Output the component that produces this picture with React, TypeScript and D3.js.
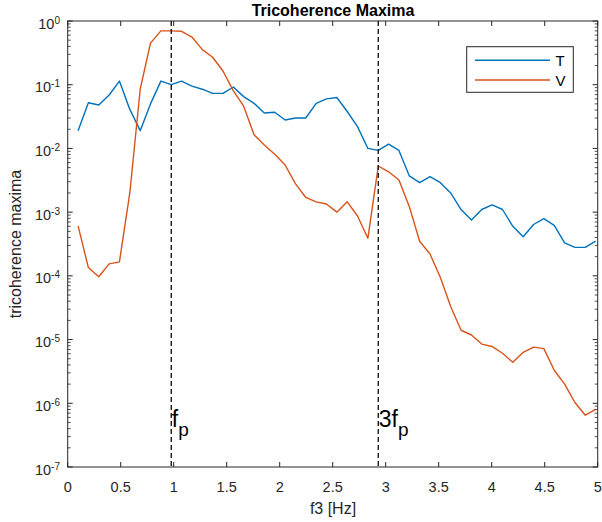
import React from "react";
import * as d3 from "d3";

const freqs = [0.098, 0.195, 0.293, 0.391, 0.488, 0.586, 0.684, 0.781, 0.879, 0.977, 1.074, 1.172, 1.270, 1.367, 1.465, 1.563, 1.660, 1.758, 1.855, 1.953, 2.051, 2.148, 2.246, 2.344, 2.441, 2.539, 2.637, 2.734, 2.832, 2.930, 3.027, 3.125, 3.223, 3.320, 3.418, 3.516, 3.613, 3.711, 3.809, 3.906, 4.004, 4.102, 4.199, 4.297, 4.395, 4.492, 4.590, 4.688, 4.785, 4.883, 4.980];

const seriesT = [0.019, 0.052, 0.048, 0.069, 0.114, 0.041, 0.019, 0.050, 0.114, 0.100, 0.114, 0.095, 0.085, 0.073, 0.073, 0.092, 0.065, 0.051, 0.036, 0.037, 0.028, 0.030, 0.030, 0.051, 0.060, 0.063, 0.038, 0.022, 0.010, 0.0093, 0.0117, 0.0093, 0.0037, 0.0029, 0.0036, 0.0029, 0.0020, 0.0011, 0.00075, 0.0011, 0.0013, 0.0011, 0.00060, 0.00041, 0.00064, 0.00079, 0.00062, 0.00033, 0.00028, 0.00028, 0.00035];

const seriesV = [0.00061, 0.000135, 0.000097, 0.000154, 0.000166, 0.0020, 0.085, 0.45, 0.70, 0.70, 0.69, 0.56, 0.355, 0.27, 0.164, 0.080, 0.046, 0.0164, 0.0113, 0.0081, 0.0055, 0.0028, 0.0017, 0.00145, 0.00134, 0.00100, 0.00145, 0.00087, 0.00039, 0.0053, 0.0043, 0.0032, 0.00122, 0.00035, 0.00022, 0.000094, 0.000033, 0.000014, 0.0000118, 0.0000085, 0.0000078, 0.0000061, 0.0000044, 0.0000063, 0.0000076, 0.0000072, 0.0000033, 0.0000020, 0.00000103, 0.00000065, 0.00000080];

const xTicks = [0, 0.5, 1, 1.5, 2, 2.5, 3, 3.5, 4, 4.5, 5];
const xTickLabels = ["0", "0.5", "1", "1.5", "2", "2.5", "3", "3.5", "4", "4.5", "5"];
const yExponents = [0, -1, -2, -3, -4, -5, -6, -7];
const markerFreqs = [0.977, 2.93];
const markerLabels = [["f", "p"], ["3f", "p"]];
const legendNames = ["T", "V"];

const W = 602, H = 522;
const L = 67.7, R = 597.7, T = 21, B = 467;
const colT = "#0072BD", colV = "#D95319";
const axisCol = "#262626";
const font = "'Liberation Sans', Arial, Helvetica, sans-serif";

export default function App() {
  const x = d3.scaleLinear().domain([0, 5]).range([L, R]);
  const y = d3.scaleLog().domain([1e-7, 1]).range([B, T]);
  const line = d3.line<number>().x((_, i) => x(freqs[i])).y((d) => y(d));

  const minor: number[] = [];
  for (let e = -7; e < 0; e++) for (let m = 2; m <= 9; m++) minor.push(m * Math.pow(10, e));

  return (
    <svg width={W} height={H} style={{ position: "fixed", left: 0, top: 0, background: "#fff" }} fontFamily={font}>
      <rect x={0} y={0} width={W} height={H} fill="#fff" />
      {/* data lines */}
      <path d={line(seriesT) || ""} fill="none" stroke={colT} strokeWidth={1.4} strokeLinejoin="round" />
      <path d={line(seriesV) || ""} fill="none" stroke={colV} strokeWidth={1.4} strokeLinejoin="round" />
      {/* marker lines */}
      {markerFreqs.map((f, i) => (
        <g key={"m" + i}>
          <line x1={x(f)} x2={x(f)} y1={T} y2={B} stroke="#1a1a1a" strokeWidth={1.4} strokeDasharray="5,3" />
          <text x={x(f) + 0.5} y={427} fontSize={23} fill="#000">
            {markerLabels[i][0]}
            <tspan fontSize={19} dy={8.5}>{markerLabels[i][1]}</tspan>
          </text>
        </g>
      ))}
      {/* axes box */}
      <rect x={L} y={T} width={R - L} height={B - T} fill="none" stroke={axisCol} strokeWidth={1} />
      {/* x ticks */}
      {xTicks.map((t, i) => (
        <g key={"x" + i}>
          <line x1={x(t)} x2={x(t)} y1={B} y2={B - 5} stroke={axisCol} />
          <line x1={x(t)} x2={x(t)} y1={T} y2={T + 5} stroke={axisCol} />
          <text x={x(t)} y={491.5} fontSize={14.5} textAnchor="middle" fill={axisCol}>{xTickLabels[i]}</text>
        </g>
      ))}
      {/* y ticks */}
      {yExponents.map((e) => (
        <g key={"y" + e}>
          <line x1={L} x2={L + 5} y1={y(Math.pow(10, e))} y2={y(Math.pow(10, e))} stroke={axisCol} />
          <line x1={R} x2={R - 5} y1={y(Math.pow(10, e))} y2={y(Math.pow(10, e))} stroke={axisCol} />
          <text x={60} y={y(Math.pow(10, e)) + 7.5} fontSize={14.5} textAnchor="end" fill={axisCol}>
            10<tspan fontSize={10} dy={-5}>{String(e)}</tspan>
          </text>
        </g>
      ))}
      {minor.map((v, i) => (
        <g key={"mn" + i}>
          <line x1={L} x2={L + 3} y1={y(v)} y2={y(v)} stroke={axisCol} strokeWidth={0.8} />
          <line x1={R} x2={R - 3} y1={y(v)} y2={y(v)} stroke={axisCol} strokeWidth={0.8} />
        </g>
      ))}
      {/* labels */}
      <text x={333} y={15.5} fontSize={16} fontWeight="bold" textAnchor="middle" fill="#000">Tricoherence Maxima</text>
      <text x={333} y={513.5} fontSize={16} textAnchor="middle" fill={axisCol}>f3 [Hz]</text>
      <text transform={`translate(20.5,${(T + B) / 2}) rotate(-90)`} fontSize={16} textAnchor="middle" fill={axisCol}>tricoherence maxima</text>
      {/* legend */}
      <rect x={466.7} y={46.7} width={106.6} height={45.6} fill="#fff" stroke={axisCol} strokeWidth={1} />
      {legendNames.map((n, i) => (
        <g key={"lg" + i}>
          <line x1={475} x2={550} y1={60.3 + i * 19.7} y2={60.3 + i * 19.7} stroke={i === 0 ? colT : colV} strokeWidth={1.4} />
          <text x={555.5} y={66 + i * 19.7} fontSize={15} fill="#000">{n}</text>
        </g>
      ))}
    </svg>
  );
}
